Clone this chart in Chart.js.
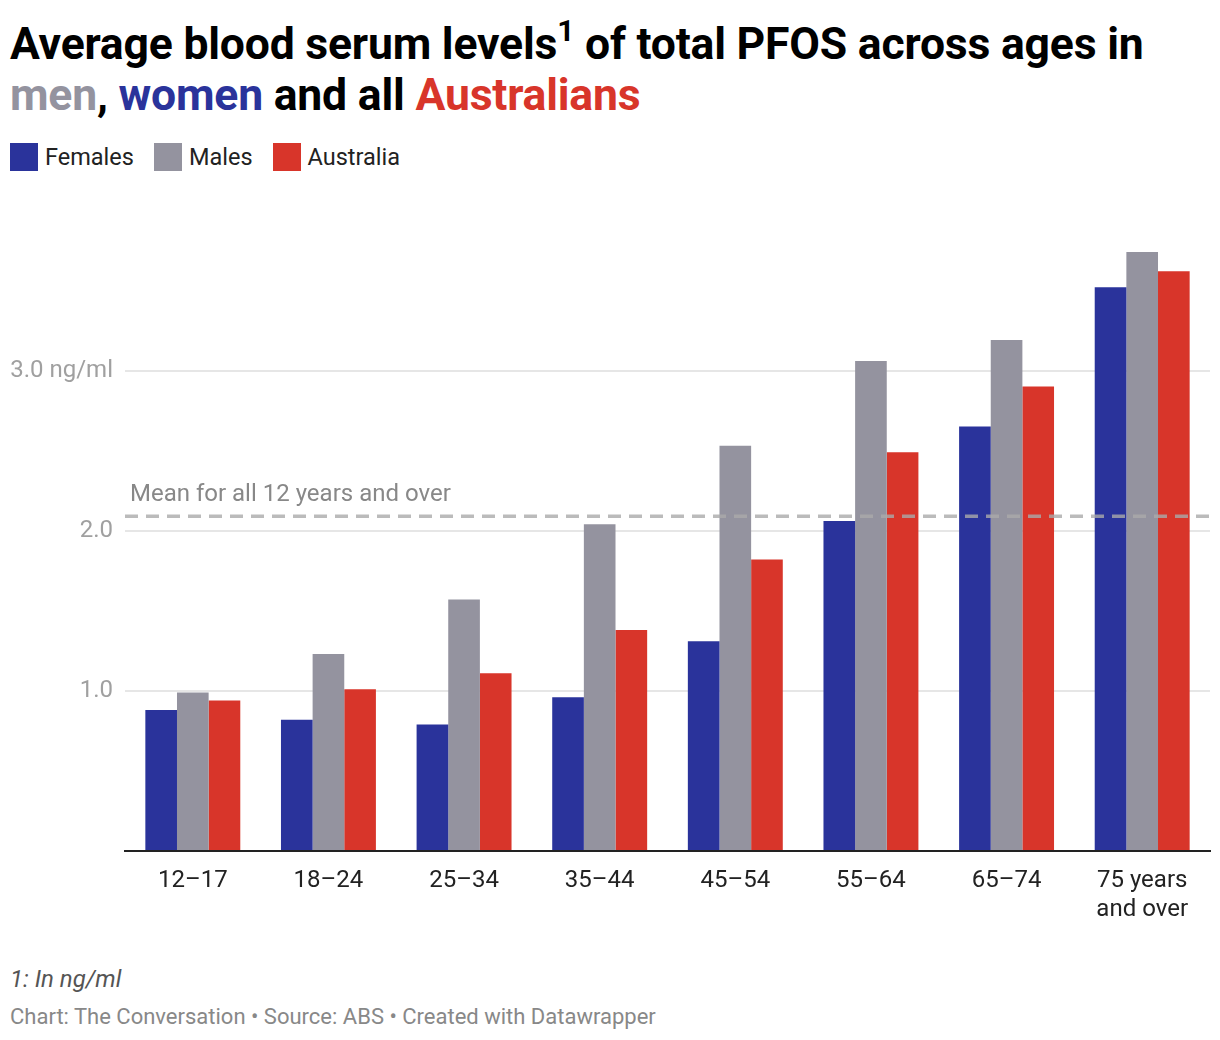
<!DOCTYPE html>
<html>
<head>
<meta charset="utf-8">
<script src="https://cdn.jsdelivr.net/npm/chart.js@4"></script>
<style>
  body{margin:0;background:#fff;font-family:Roboto,"Noto Sans",sans-serif;width:1220px;height:1040px;position:relative;overflow:hidden}
  h1{position:absolute;left:10px;top:19px;margin:0;font-size:44.5px;line-height:51px;font-weight:700;color:#000;letter-spacing:-0.2px;white-space:nowrap}
  h1 sup{font-size:30px;line-height:0;position:relative;top:-2px}
  .legend{position:absolute;left:10px;top:143px;display:flex;font-size:23.5px;color:#222}
  .legend span{display:flex;align-items:center;margin-right:20px}
  .legend i{display:inline-block;width:28px;height:28px;margin-right:7px}
  #wrap{position:absolute;left:0;top:184px;width:1220px;height:746px}
  .note{position:absolute;left:10px;top:965px;font-size:24px;font-style:italic;color:#555}
  .src{position:absolute;left:10px;top:1004px;font-size:22px;color:#888}
</style>
</head>
<body>
<h1>Average blood serum levels<sup>1</sup> of total PFOS across ages in<br><span style="color:#94939f">men</span>, <span style="color:#2a339b">women</span> and all <span style="color:#d8352a">Australians</span></h1>
<div class="legend">
  <span><i style="background:#2a339b"></i>Females</span>
  <span><i style="background:#94939f"></i>Males</span>
  <span><i style="background:#d8352a"></i>Australia</span>
</div>
<div id="wrap"><canvas id="c"></canvas></div>
<div class="note">1: In ng/ml</div>
<div class="src">Chart: The Conversation • Source: ABS • Created with Datawrapper</div>
<script>
const ageGroups = ["12–17","18–24","25–34","35–44","45–54","55–64","65–74",["75 years","and over"]];
const females = [0.88,0.82,0.79,0.96,1.31,2.06,2.65,3.52];
const males = [0.99,1.23,1.57,2.04,2.53,3.06,3.19,3.74];
const australia = [0.94,1.01,1.11,1.38,1.82,2.49,2.90,3.62];
const meanAll = 2.09;
const meanLabel = "Mean for all 12 years and over";

// dashed mean line drawn over the bars
const meanLine = {
  id:"meanLine",
  afterDatasetsDraw(chart){
    const {ctx, chartArea, scales} = chart;
    const y = scales.y.getPixelForValue(meanAll);
    ctx.save();
    ctx.strokeStyle = "rgba(170,170,170,0.8)";
    ctx.lineWidth = 3.5;
    ctx.setLineDash([13,8]);
    ctx.beginPath();
    ctx.moveTo(chartArea.left, y);
    ctx.lineTo(chartArea.right, y);
    ctx.stroke();
    ctx.setLineDash([]);
    ctx.fillStyle = "#888";
    ctx.font = "24px Roboto";
    ctx.textBaseline = "bottom";
    ctx.fillText(meanLabel, chartArea.left + 5, y - 9);
    ctx.restore();
  }
};

new Chart(document.getElementById("c"),{
  type:"bar",
  data:{
    labels:ageGroups,
    datasets:[
      {label:"Females", data:females, backgroundColor:"#2a339b"},
      {label:"Males", data:males, backgroundColor:"#94939f"},
      {label:"Australia", data:australia, backgroundColor:"#d8352a"}
    ]
  },
  options:{
    responsive:true,
    maintainAspectRatio:false,
    animation:false,
    datasets:{bar:{barPercentage:1, categoryPercentage:0.7, borderWidth:0}},
    layout:{padding:{top:11, right:10, left:0, bottom:0}},
    plugins:{legend:{display:false}, tooltip:{enabled:false}},
    scales:{
      x:{
        grid:{display:false},
        border:{display:true, color:"#222", width:2},
        ticks:{color:"#222", font:{family:"Roboto", size:24}, padding:8, maxRotation:0},
        afterFit(s){ s.height = 79; }
      },
      y:{
        min:0, max:4,
        border:{display:false},
        grid:{
          drawTicks:false,
          lineWidth:2,
          color:c => (c.tick.value===0 || c.tick.value===4) ? "rgba(0,0,0,0)" : "#e6e6e6"
        },
        ticks:{
          stepSize:1,
          padding:12,
          color:"#a0a0a0",
          font:{family:"Roboto", size:24},
          callback:v => v===3 ? "3.0 ng/ml" : (v===1 || v===2) ? v.toFixed(1) : ""
        },
        afterFit(s){ s.width = 125; }
      }
    }
  },
  plugins:[meanLine]
});
</script>
</body>
</html>
